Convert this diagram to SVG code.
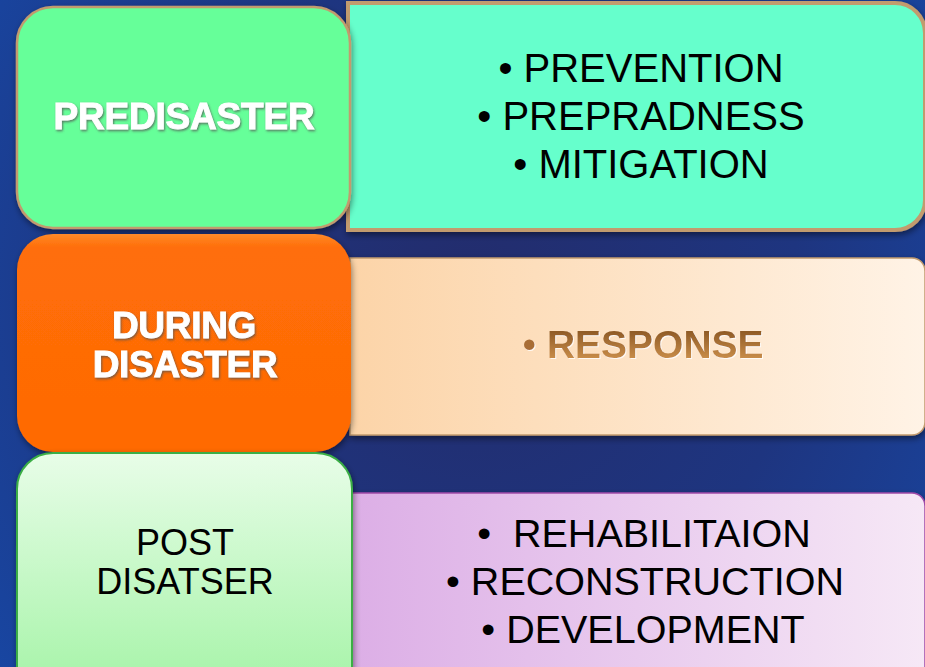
<svg xmlns="http://www.w3.org/2000/svg" width="925" height="667" viewBox="0 0 925 667">
<defs>
<radialGradient id="bg" cx="470" cy="300" r="600" gradientUnits="userSpaceOnUse">
<stop offset="0" stop-color="#232c6c"/>
<stop offset="0.55" stop-color="#1e3580"/>
<stop offset="1" stop-color="#1846a2"/>
</radialGradient>
<linearGradient id="gPost" x1="0" y1="0" x2="0" y2="1">
<stop offset="0" stop-color="#e8fde8"/>
<stop offset="1" stop-color="#a2f3a4"/>
</linearGradient>
<linearGradient id="gResp" x1="0" y1="0" x2="1" y2="0">
<stop offset="0" stop-color="#fcd4a8"/>
<stop offset="1" stop-color="#fff3e6"/>
</linearGradient>
<linearGradient id="gRehab" x1="0" y1="0" x2="1" y2="0">
<stop offset="0" stop-color="#dcaee6"/>
<stop offset="1" stop-color="#f6e8f6"/>
</linearGradient>
<linearGradient id="gOrange" x1="0" y1="0" x2="0" y2="1">
<stop offset="0" stop-color="#ff8a2a"/>
<stop offset="0.06" stop-color="#ff6e08"/>
<stop offset="1" stop-color="#ff6a04"/>
</linearGradient>
<linearGradient id="gBrown" x1="0" y1="0" x2="0" y2="1">
<stop offset="0" stop-color="#7e4c1c"/>
<stop offset="1" stop-color="#d89a52"/>
</linearGradient>
<filter id="sh" x="-5%" y="-5%" width="112%" height="115%">
<feDropShadow dx="1" dy="3" stdDeviation="3" flood-color="#000" flood-opacity="0.45"/>
</filter>
<filter id="tsh" x="-10%" y="-20%" width="120%" height="150%">
<feDropShadow dx="1" dy="1.5" stdDeviation="1.2" flood-color="#555" flood-opacity="0.8"/>
</filter>
<filter id="bsh" x="-10%" y="-20%" width="120%" height="150%">
<feDropShadow dx="1" dy="1" stdDeviation="0.6" flood-color="#fff" flood-opacity="0.8"/>
</filter>
</defs>
<style>
.w{font-family:"Liberation Sans",Arial,sans-serif;font-weight:bold;fill:#fff;stroke:#fff;stroke-width:0.9;text-anchor:middle;}
.k{font-family:"Liberation Sans",Arial,sans-serif;fill:#000;text-anchor:middle;}
</style>
<rect width="925" height="667" fill="url(#bg)"/>

<g id="predisaster-items">
<path d="M348,3 H895 A30,30 0 0 1 925,33 V200 A30,30 0 0 1 895,230 H348 Z" fill="#66ffcc" stroke="#c29b6e" stroke-width="4" filter="url(#sh)"/>
<text class="k" font-size="40"><tspan x="641" y="82">• PREVENTION</tspan><tspan x="641" y="130">• PREPRADNESS</tspan><tspan x="641" y="178">• MITIGATION</tspan></text>
</g>

<g id="predisaster">
<rect x="17" y="7" width="333" height="221" rx="36" fill="#66ff99" stroke="#c29b6e" stroke-width="2.5" filter="url(#sh)"/>
<text class="w" x="184" y="129" font-size="37" letter-spacing="-0.2" filter="url(#tsh)">PREDISASTER</text>
</g>

<g id="during-items">
<path d="M350,258 H912 A13,13 0 0 1 925,271 V422 A13,13 0 0 1 912,435 H350 Z" fill="url(#gResp)" stroke="#c29b6e" stroke-width="1.5" filter="url(#sh)"/>
<text x="643" y="358" font-family="Liberation Sans,Arial,sans-serif" font-weight="bold" font-size="39" text-anchor="middle" fill="url(#gBrown)" filter="url(#bsh)"><tspan fill="#a86d34" font-weight="normal">• </tspan>RESPONSE</text>
</g>

<g id="during">
<rect x="17" y="234" width="334" height="218" rx="36" fill="url(#gOrange)" filter="url(#sh)"/>
<text class="w" font-size="37" letter-spacing="-0.3" filter="url(#tsh)"><tspan x="184" y="338">DURING</tspan><tspan x="185" y="377">DISASTER</tspan></text>
</g>

<g id="post-items">
<path d="M350,493 H912 A13,13 0 0 1 925,506 V680 H350 Z" fill="url(#gRehab)" stroke="#a04aa8" stroke-width="1.5" filter="url(#sh)"/>
<text class="k" font-size="39.5"><tspan x="644" y="547">•&#160; REHABILITAION</tspan><tspan x="645" y="595">• RECONSTRUCTION</tspan><tspan x="643" y="643">• DEVELOPMENT</tspan></text>
</g>

<g id="post">
<rect x="17" y="453" width="335" height="250" rx="36" fill="url(#gPost)" stroke="#3aae45" stroke-width="2" filter="url(#sh)"/>
<text class="k" font-size="36"><tspan x="185" y="555">POST</tspan><tspan x="185" y="594">DISATSER</tspan></text>
</g>

<g id="connectors"></g>
</svg>
